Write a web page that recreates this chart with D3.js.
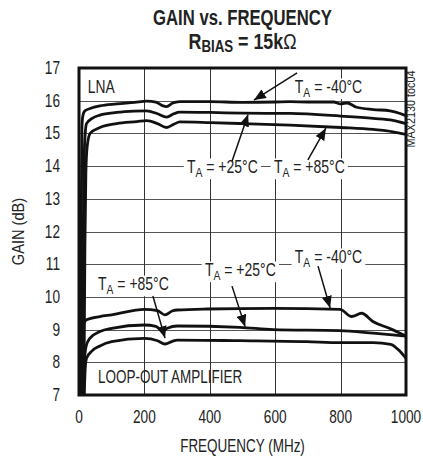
<!DOCTYPE html>
<html>
<head>
<meta charset="utf-8">
<script src="https://cdn.jsdelivr.net/npm/d3@7"></script>
<style>
  body { margin: 0; background: #fff; }
  text { font-family: "Liberation Sans", Arial, sans-serif; fill: #222; }
</style>
</head>
<body>
<script>
// tick labels
const xTicks = [0, 200, 400, 600, 800, 1000];
const yTicks = [7, 8, 9, 10, 11, 12, 13, 14, 15, 16, 17];

// LNA curves (freq MHz, gain dB)
const lnaM40F = [4, 7, 9, 12, 18, 34, 64, 115, 170, 207, 235, 255, 268, 285, 308, 400, 500, 600, 645, 700, 779, 800, 820, 849, 900, 951, 982, 1000];
const lnaM40G = [7.0, 12.5, 15.2, 15.55, 15.69, 15.76, 15.84, 15.9, 15.95, 15.99, 15.96, 15.85, 15.82, 15.92, 15.97, 15.97, 15.95, 15.96, 15.97, 15.96, 15.96, 15.9, 15.93, 15.8, 15.73, 15.69, 15.61, 15.54];

const lna25F = [10, 13, 16, 19, 23, 40, 64, 115, 170, 207, 240, 268, 290, 308, 400, 500, 645, 800, 900, 960, 1000];
const lna25G = [7.0, 12.0, 14.3, 15.0, 15.3, 15.46, 15.56, 15.64, 15.68, 15.69, 15.6, 15.5, 15.6, 15.65, 15.64, 15.62, 15.61, 15.53, 15.46, 15.4, 15.3];

const lna85F = [15, 18, 21, 25, 34, 64, 115, 177, 207, 240, 268, 290, 308, 400, 500, 645, 800, 900, 960, 1000];
const lna85G = [7.0, 11.5, 13.8, 14.6, 15.0, 15.18, 15.3, 15.36, 15.39, 15.3, 15.18, 15.28, 15.35, 15.33, 15.3, 15.25, 15.18, 15.12, 15.05, 14.97];

// loop-out amplifier curves
const loopM40F = [8, 12, 16, 23, 64, 100, 200, 240, 263, 285, 300, 390, 594, 798, 834, 864, 900, 949, 1000];
const loopM40G = [7.0, 8.6, 9.2, 9.3, 9.4, 9.45, 9.62, 9.58, 9.45, 9.57, 9.6, 9.63, 9.65, 9.62, 9.4, 9.5, 9.24, 9.04, 8.8];

const loop25F = [12, 16, 22, 33, 64, 100, 200, 235, 255, 270, 300, 492, 594, 798, 900, 1000];
const loop25G = [7.0, 8.0, 8.5, 8.73, 8.94, 9.04, 9.14, 9.1, 8.96, 9.04, 9.11, 9.07, 9.0, 8.97, 8.89, 8.8];

const loop85F = [16, 19, 23, 40, 64, 100, 200, 240, 263, 285, 300, 492, 696, 798, 900, 953, 980, 1000];
const loop85G = [7.0, 7.8, 8.12, 8.35, 8.5, 8.63, 8.73, 8.66, 8.56, 8.64, 8.68, 8.66, 8.63, 8.6, 8.6, 8.55, 8.35, 8.12];

const series = [
  [lnaM40F, lnaM40G], [lna25F, lna25G], [lna85F, lna85G],
  [loopM40F, loopM40G], [loop25F, loop25G], [loop85F, loop85G]
];

// annotation labels: text position, arrow tail, arrow tip (data units)
const notes = [
  { t: "-40°C", x: 660, y: 16.24, ax: 667, ay: 16.85, bx: 535, by: 16.02 },
  { t: "+25°C", x: 330, y: 13.79, ax: 468, ay: 14.15, bx: 517, by: 15.58 },
  { t: "+85°C", x: 596, y: 13.79, ax: 700, ay: 14.19, bx: 755, by: 15.16 },
  { t: "+85°C", x: 58, y: 10.21, ax: 226, ay: 10.03, bx: 263, by: 8.74 },
  { t: "+25°C", x: 385, y: 10.64, ax: 468, ay: 10.33, bx: 508, by: 9.09 },
  { t: "-40°C", x: 660, y: 11.04, ax: 731, ay: 10.94, bx: 768, by: 9.66 }
];

const W = 423, H = 460;
const mLeft = 79, mRight = 406, mTop = 68, mBottom = 395;

const x = d3.scaleLinear().domain([0, 1000]).range([mLeft, mRight]);
const y = d3.scaleLinear().domain([7, 17]).range([mBottom, mTop]);

const svg = d3.select("body").append("svg")
  .attr("width", W)
  .attr("height", H);

// condensed text: Liberation Sans squeezed horizontally
function ctext(parent, px, py, size, sx, anchor, rot) {
  const g = parent.append("g")
    .attr("transform", "translate(" + px + "," + py + ")" + (rot ? " rotate(" + rot + ")" : "") + " scale(" + sx + ",1)");
  return g.append("text")
    .attr("font-size", size)
    .attr("text-anchor", anchor || "start");
}

const defs = svg.append("defs");
defs.append("clipPath").attr("id", "plot")
  .append("rect")
  .attr("x", mLeft).attr("y", mTop)
  .attr("width", mRight - mLeft).attr("height", mBottom - mTop);

defs.append("marker")
  .attr("id", "arrow")
  .attr("markerUnits", "userSpaceOnUse")
  .attr("viewBox", "0 0 12 10")
  .attr("refX", 12).attr("refY", 5)
  .attr("markerWidth", 12).attr("markerHeight", 10)
  .attr("orient", "auto")
  .append("path")
  .attr("d", "M0,0 L12,5 L0,10 Z")
  .attr("fill", "#111");

// grid
svg.append("g").selectAll("line")
  .data(yTicks.slice(1, -1))
  .enter().append("line")
  .attr("x1", mLeft).attr("x2", mRight)
  .attr("y1", d => Math.round(y(d)) + 0.5)
  .attr("y2", d => Math.round(y(d)) + 0.5)
  .attr("stroke", "#555").attr("stroke-width", 1);

svg.append("g").selectAll("line")
  .data(xTicks.slice(1, -1))
  .enter().append("line")
  .attr("y1", mTop).attr("y2", mBottom)
  .attr("x1", d => Math.round(x(d)) + 0.5)
  .attr("x2", d => Math.round(x(d)) + 0.5)
  .attr("stroke", "#333").attr("stroke-width", 1);

// T_A labels with white boxes
const noteG = svg.append("g");
notes.forEach(d => {
  const txt = ctext(noteG, x(d.x), y(d.y), 17.5, 0.8);
  txt.append("tspan").text("T");
  txt.append("tspan").attr("dy", 4).attr("font-size", 13).text("A");
  txt.append("tspan").attr("dy", -4).text(" = " + d.t);
  const bb = txt.node().getBBox();
  d3.select(txt.node().parentNode).insert("rect", "text")
    .attr("x", bb.x - 4).attr("y", bb.y + 1)
    .attr("width", bb.width + 8).attr("height", bb.height - 1)
    .attr("fill", "#fff");
});

// arrows
svg.append("g").selectAll("line")
  .data(notes)
  .enter().append("line")
  .attr("x1", d => x(d.ax)).attr("y1", d => y(d.ay))
  .attr("x2", d => x(d.bx)).attr("y2", d => y(d.by))
  .attr("stroke", "#111").attr("stroke-width", 1.5)
  .attr("marker-end", "url(#arrow)");

// curves
const line = d3.line()
  .x(d => x(d[0]))
  .y(d => y(d[1]))
  .curve(d3.curveMonotoneX);

svg.append("g").attr("clip-path", "url(#plot)")
  .selectAll("path")
  .data(series)
  .enter().append("path")
  .attr("d", s => line(s[0].map((f, i) => [f, s[1][i]])))
  .attr("fill", "none")
  .attr("stroke", "#111")
  .attr("stroke-width", 2.8)
  .attr("stroke-linejoin", "round");

// frame
svg.append("rect")
  .attr("x", mLeft).attr("y", mTop)
  .attr("width", mRight - mLeft).attr("height", mBottom - mTop)
  .attr("fill", "none")
  .attr("stroke", "#111")
  .attr("stroke-width", 3);

// plain labels inside plot
ctext(svg, x(27), y(16.24), 17.5, 0.79).text("LNA");
ctext(svg, x(58), y(7.37), 17.5, 0.77).text("LOOP-OUT AMPLIFIER");

// tick labels
yTicks.forEach(d => {
  ctext(svg, 60, y(d) + 6, 17.5, 0.78, "end").text(d);
});
xTicks.forEach(d => {
  ctext(svg, x(d), 423, 17.5, 0.78, "middle").text(d);
});

// axis titles
ctext(svg, (mLeft + mRight) / 2, 452, 17.5, 0.77, "middle").text("FREQUENCY (MHz)");
ctext(svg, 24, (mTop + mBottom) / 2, 17, 0.86, "middle", -90).text("GAIN (dB)");

// chart title
ctext(svg, (mLeft + mRight) / 2, 24.5, 21.5, 0.776, "middle")
  .attr("font-weight", "bold")
  .text("GAIN vs. FREQUENCY");

const sub = ctext(svg, (mLeft + mRight) / 2, 49, 21.5, 0.83, "middle")
  .attr("font-weight", "bold");
sub.append("tspan").text("R");
sub.append("tspan").attr("dy", 3).attr("font-size", 16).text("BIAS");
sub.append("tspan").attr("dy", -3).text(" = 15k");
sub.append("tspan").attr("font-weight", "normal").text("\u03A9");

// side id
ctext(svg, 415, 109, 12, 0.9, "middle", -90)
  .attr("fill", "#444")
  .text("MAX2130 toc04");
</script>
</body>
</html>
